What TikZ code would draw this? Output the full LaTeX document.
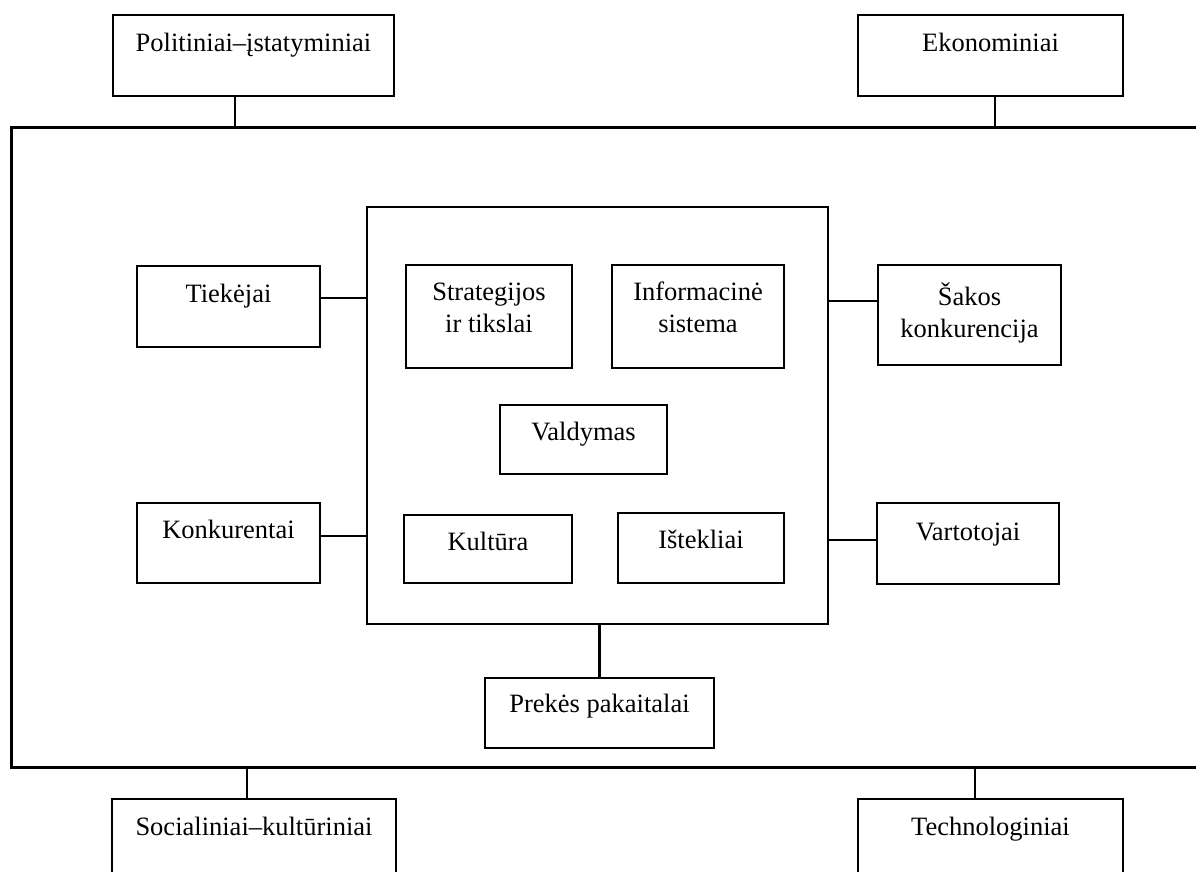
\documentclass[tikz,border=0pt]{standalone}
\usepackage{fontspec}
\setmainfont{Liberation Serif}
% box content: width, height, first baseline from top, line spacing, text
\newcommand{\boxtxt}[5]{\parbox[c][#2pt][t]{#1pt}{\parskip=0pt\fontsize{26.5pt}{#4pt}\selectfont\centering\rule{0pt}{#3pt}#5\par}}
\begin{document}
\begin{tikzpicture}[x=1pt,y=-1pt,
  box/.style={draw=black, line width=2.2pt, inner sep=0pt, fill=white},
  frame/.style={draw=black, line width=3pt, inner sep=0pt, minimum width=1204pt, minimum height=639pt},
  link/.style={draw=black, line width=2.2pt}]
\useasboundingbox (0,0) rectangle (1196,872);
\clip (0,0) rectangle (1196,872);

% environment frame (open to the right)
\node[frame] (env) at (613,447.5) {};

% macro-environment factors
\node[box] (pol) at (253.5,55.5) {\boxtxt{281}{81}{37}{32}{Politiniai–įstatyminiai}};
\node[box] (eko) at (990.5,55.5) {\boxtxt{265}{81}{37}{32}{Ekonominiai}};
\node[box] (soc) at (254,849)    {\boxtxt{284}{100}{36}{32}{Socialiniai–kultūriniai}};
\node[box] (tec) at (990.5,849)  {\boxtxt{265}{100}{36}{32}{Technologiniai}};

% organisation core
\node[box, minimum width=461pt, minimum height=417pt] (core) at (597.5,415.5) {};
\node[box] (str) at (489,316.5)   {\boxtxt{166}{103}{35}{32}{Strategijos\\ir tikslai}};
\node[box] (inf) at (698,316.5)   {\boxtxt{172}{103}{35}{32}{Informacinė\\sistema}};
\node[box] (val) at (583.5,439.5) {\boxtxt{167}{69}{35}{32}{Valdymas}};
\node[box] (kul) at (488,549)     {\boxtxt{168}{68}{35}{32}{Kultūra}};
\node[box] (ist) at (701,548)     {\boxtxt{166}{70}{35}{32}{Ištekliai}};

% task-environment factors
\node[box] (tie) at (228.5,306.5) {\boxtxt{183}{81}{36}{32}{Tiekėjai}};
\node[box] (kon) at (228.5,543)   {\boxtxt{183}{80}{35}{32}{Konkurentai}};
\node[box] (sak) at (969.5,315)   {\boxtxt{183}{100}{40}{32}{Šakos\\konkurencija}};
\node[box] (var) at (968,543.5)   {\boxtxt{182}{81}{37}{32}{Vartotojai}};
\node[box] (pre) at (599.5,713)   {\boxtxt{229}{70}{34}{32}{Prekės pakaitalai}};

% connectors
\draw[link] ([xshift=-18.5pt]pol.south) -- ([xshift=-18.5pt]pol.south |- env.north);
\draw[link] ([xshift=4.5pt]eko.south) -- ([xshift=4.5pt]eko.south |- env.north);
\draw[link] ([xshift=-7pt]soc.north) -- ([xshift=-7pt]soc.north |- env.south);
\draw[link] ([xshift=-15.5pt]tec.north) -- ([xshift=-15.5pt]tec.north |- env.south);
\draw[link] ([yshift=8.5pt]tie.east) -- ([yshift=8.5pt]tie.east -| core.west);
\draw[link] ([yshift=7pt]kon.east) -- ([yshift=7pt]kon.east -| core.west);
\draw[link] ([yshift=14pt]sak.west) -- ([yshift=14pt]sak.west -| core.east);
\draw[link] ([yshift=3.5pt]var.west) -- ([yshift=3.5pt]var.west -| core.east);
\draw[link] (pre.north) -- (pre.north |- core.south);
\end{tikzpicture}
\end{document}
